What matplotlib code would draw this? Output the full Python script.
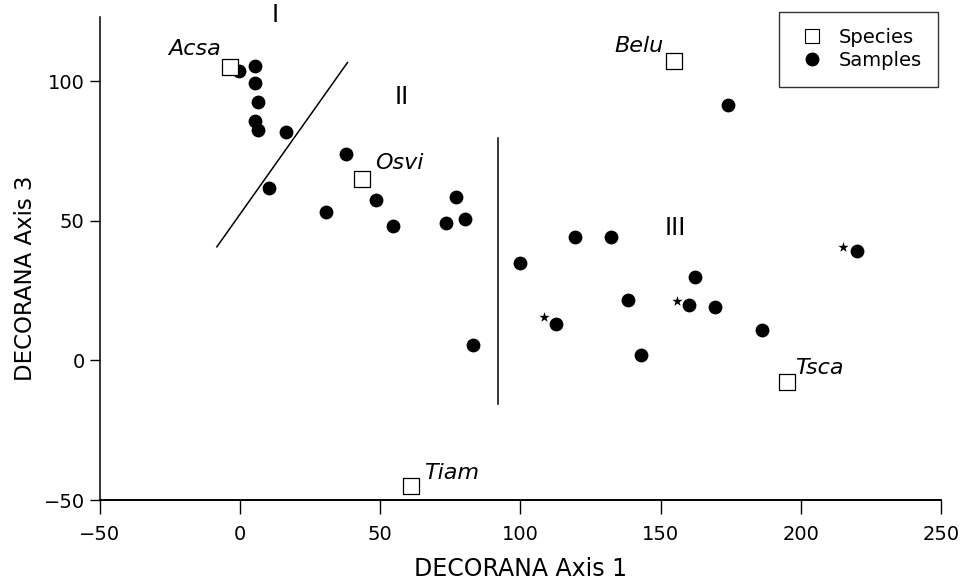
import matplotlib.pyplot as plt
from matplotlib.lines import Line2D

plt.rcParams['font.family'] = ['DejaVu Sans']

# species scores (DECORANA axis 1, axis 3)
species = ['Acsa', 'Osvi', 'Belu', 'Tsca', 'Tiam']
species_x = [-3.5, 43.6, 154.7, 195.1, 60.8]
species_y = [105.0, 65.0, 107.1, -7.8, -45.1]
# label offsets in points (dx, dy) and alignment
label_dx = [-6.5, 9.0, -7.0, 5.8, 9.4]
label_dy = [13.0, 11.5, 11.0, 10.0, 9.4]
label_ha = ['right', 'left', 'right', 'left', 'left']

# sample scores
samples_x = [-0.5, 5.3, 5.3, 6.4, 5.3, 6.4, 16.4,
             10.2, 37.7, 30.7, 48.6, 54.4, 77.1, 73.3, 80.1, 83.0,
             100.0, 119.6, 132.4, 112.7, 138.3, 143.1, 160.1, 162.3,
             169.4, 186.2, 220.1, 173.9]
samples_y = [103.5, 105.6, 99.4, 92.7, 85.9, 82.6, 81.8,
             61.7, 73.9, 53.0, 57.3, 48.1, 58.5, 49.4, 50.6, 5.7,
             34.9, 44.1, 44.1, 13.2, 21.5, 1.8, 20.0, 29.9,
             19.1, 11.0, 39.2, 91.4]

# starred samples
star_x = [108.5, 155.9, 215.2]
star_y = [15.5, 21.3, 40.6]

# group boundaries and group labels
line1_x = [-8.3, 38.3]
line1_y = [40.7, 106.7]
line2_x = [91.9, 91.9]
line2_y = [79.7, -15.4]
groups = ['I', 'II', 'III']
group_x = [12.4, 57.8, 155.2]
group_y = [123.8, 94.5, 47.5]

fig = plt.figure(figsize=(9.66, 5.87), dpi=100)
ax = fig.add_axes([0.1035, 0.148, 0.8705, 0.823])

ax.scatter(samples_x, samples_y, s=80, c='black', zorder=3)
ax.scatter(species_x, species_y, s=130, marker='s', facecolors='white',
           edgecolors='black', linewidths=0.9, zorder=3)
ax.scatter(star_x, star_y, s=60, marker='*', c='black', linewidths=0, zorder=3)

for name, x, y, dx, dy, ha in zip(species, species_x, species_y, label_dx, label_dy, label_ha):
    ax.annotate(name, (x, y), xytext=(dx, dy), textcoords='offset points',
                ha=ha, va='center', fontsize=16, style='italic')

ax.plot(line1_x, line1_y, color='black', lw=1.1)
ax.plot(line2_x, line2_y, color='black', lw=1.1)
for g, x, y in zip(groups, group_x, group_y):
    ax.text(x, y, g, ha='center', va='center', fontsize=17, clip_on=False)

ax.set_xlim(-50, 250)
ax.set_ylim(-50, 123)
ax.set_xticks([-50, 0, 50, 100, 150, 200, 250])
ax.set_yticks([-50, 0, 50, 100])
ax.spines['top'].set_visible(False)
ax.spines['right'].set_visible(False)
ax.spines['left'].set_linewidth(1.1)
ax.spines['bottom'].set_linewidth(1.4)
ax.tick_params(axis='x', direction='out', length=10, width=1, labelsize=14, pad=8)
ax.tick_params(axis='y', direction='out', length=7, width=1, labelsize=14, pad=4)
ax.set_xlabel('DECORANA Axis 1', fontsize=17, labelpad=9)
ax.set_ylabel('DECORANA Axis 3', fontsize=16.5)
ax.yaxis.set_label_coords(-0.075, 0.46)

handles = [Line2D([], [], marker='s', ls='', markersize=10, markerfacecolor='white',
                  markeredgecolor='black', markeredgewidth=0.8),
           Line2D([], [], marker='o', ls='', markersize=9, color='black')]
leg = fig.legend(handles, ['Species', 'Samples'], loc='upper right',
                 bbox_to_anchor=(0.971, 0.98), fontsize=14, frameon=True,
                 fancybox=False, handletextpad=0.5, borderpad=0.85,
                 labelspacing=0.2, handlelength=1.7, borderaxespad=0)
leg.get_frame().set_edgecolor('black')
leg.get_frame().set_linewidth(1.0)

fig.savefig('out.png', dpi=100)
